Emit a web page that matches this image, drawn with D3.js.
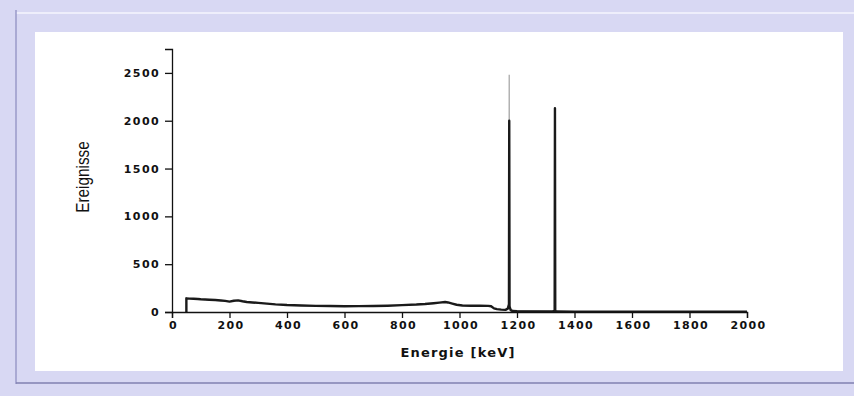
<!DOCTYPE html>
<html>
<head>
<meta charset="utf-8">
<script src="https://cdn.jsdelivr.net/npm/d3@7"></script>
<style>
  html, body { margin: 0; padding: 0; background: #d9d9f3; }
  svg { display: block; }
</style>
</head>
<body>
<div id="chart"></div>
<script>
// spectrum, energy in keV and counts
const energy = [50, 50, 60, 75, 90, 100, 115, 130, 150, 170, 185, 200, 215, 230, 245, 260, 280, 300, 330, 360, 400,
  450, 500, 550, 600, 650, 700, 750, 800, 850, 880, 910, 930, 950, 960, 975, 990, 1010, 1040, 1070, 1100, 1110,
  1120, 1130, 1145, 1160, 1168, 1172, 1173, 1174, 1178, 1185, 1200, 1250, 1300, 1325, 1331, 1332, 1333, 1340,
  1400, 1500, 1600, 1700, 1800, 1900, 2000];
const counts = [0, 143, 140, 138, 136, 133, 131, 128, 125, 120, 116, 108, 118, 122, 112, 104, 100, 95, 88, 80, 73,
  68, 64, 62, 60, 61, 63, 66, 72, 78, 84, 92, 98, 104, 100, 88, 76, 68, 66, 65, 64, 60,
  38, 30, 25, 22, 35, 80, 2000, 60, 20, 10, 8, 7, 6, 6, 15, 2130, 12, 5,
  4, 3, 3, 2, 2, 2, 2];
// lighter raw trace, only visible where it sticks out of the black one
const rawEnergy = [1165, 1172, 1173, 1174, 1180, 1325, 1331, 1332, 1333, 1340];
const rawCounts = [30, 60, 2480, 60, 15, 6, 20, 2130, 20, 5];

const xTicks = [0, 200, 400, 600, 800, 1000, 1200, 1400, 1600, 1800, 2000];
const yTicks = [0, 500, 1000, 1500, 2000, 2500];

const W = 854, H = 396;
const margin = {top: 49, right: 107, bottom: 84, left: 172};
const chtH = H - margin.top - margin.bottom;

const svg = d3.select('#chart').append('svg').attr('width', W).attr('height', H);

// frame
svg.append('rect').attr('width', W).attr('height', H).attr('fill', '#d8d8f3');
svg.append('line').attr('x1', 16).attr('x2', W).attr('y1', 13).attr('y2', 13)
  .attr('stroke', '#eeeefb').attr('stroke-width', 2);
svg.append('line').attr('x1', 16).attr('x2', 16).attr('y1', 10).attr('y2', 384)
  .attr('stroke', '#9a9ac8').attr('stroke-width', 1.5);
svg.append('line').attr('x1', 16).attr('x2', W).attr('y1', 383).attr('y2', 383)
  .attr('stroke', '#8080b0').attr('stroke-width', 1.5);
svg.append('rect').attr('x', 35).attr('y', 32).attr('width', 808).attr('height', 339).attr('fill', '#fff');

const g = svg.append('g').attr('transform', 'translate(' + margin.left + ',' + margin.top + ')');

const x = d3.scaleLinear().domain([0, 2000]).range([0, 575]);
const y = d3.scaleLinear().domain([0, 2750]).range([chtH, 0]);

const line = d3.line().x(d => x(d[0])).y(d => y(d[1]));

g.append('path')
  .datum(d3.zip(rawEnergy, rawCounts))
  .attr('fill', 'none').attr('stroke', '#b0b0b0').attr('stroke-width', 1.4)
  .attr('d', line);

g.append('path')
  .datum(d3.zip(energy, counts))
  .attr('fill', 'none').attr('stroke', '#1a1a1a').attr('stroke-width', 2.4)
  .attr('stroke-linejoin', 'round')
  .attr('d', line);

const tickFont = 'bold 11px "DejaVu Sans", sans-serif';

// x axis
const xAxis = g.append('g').attr('transform', 'translate(0,' + chtH + ')');
xAxis.call(d3.axisBottom(x).tickValues(d3.range(100, 2000, 200)).tickSize(3).tickFormat(''));
xAxis.call(d3.axisBottom(x).tickValues(xTicks).tickSize(6).tickPadding(3).tickFormat(d3.format('d')));
xAxis.selectAll('text').style('font', tickFont).style('letter-spacing', '1.4px').attr('dx', 1).attr('fill', '#111');
xAxis.selectAll('path.domain').attr('stroke', '#111').attr('stroke-width', 1.3);
xAxis.selectAll('line').attr('stroke', '#111').attr('stroke-width', 1.3);

// y axis
const yAxis = g.append('g');
yAxis.call(d3.axisLeft(y).tickValues(d3.range(250, 2800, 500)).tickSize(3).tickFormat(''));
yAxis.call(d3.axisLeft(y).tickValues(yTicks).tickSize(7).tickPadding(5).tickFormat(d3.format('d')));
yAxis.selectAll('text').style('font', tickFont).style('letter-spacing', '1.4px').attr('fill', '#111');
yAxis.selectAll('path.domain').attr('stroke', '#111').attr('stroke-width', 1.3);
yAxis.selectAll('line').attr('stroke', '#111').attr('stroke-width', 1.3);

svg.append('text')
  .attr('x', 458).attr('y', 357)
  .attr('text-anchor', 'middle')
  .style('font', 'bold 13px "DejaVu Sans", sans-serif')
  .style('letter-spacing', '1.2px')
  .attr('fill', '#111')
  .text('Energie [keV]');

svg.append('text')
  .attr('transform', 'translate(89,177) rotate(-90) scale(0.85,1)')
  .attr('text-anchor', 'middle')
  .style('font', '18px "Liberation Sans", Arial, sans-serif')
  .attr('fill', '#111')
  .text('Ereignisse');
</script>
</body>
</html>
